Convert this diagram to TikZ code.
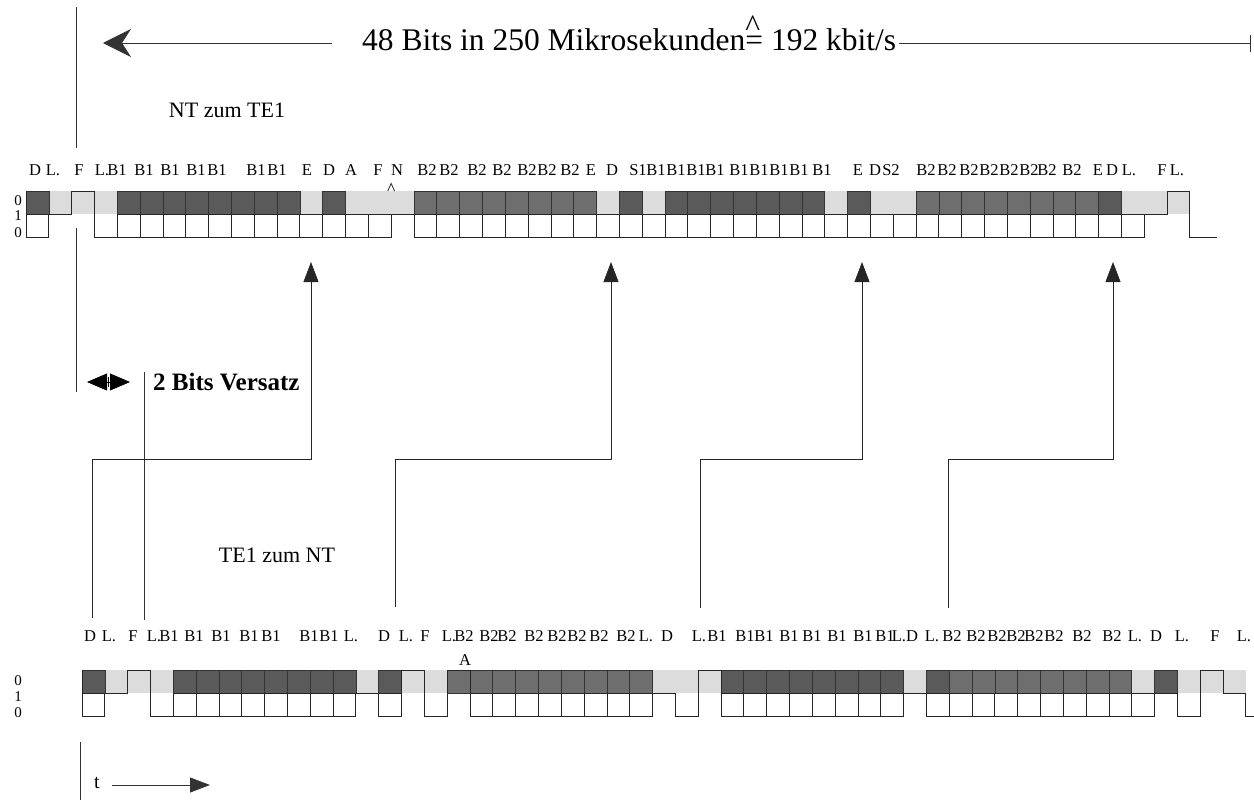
\documentclass[tikz,border=0pt]{standalone}
\usepackage{fontspec}
\setmainfont{Liberation Serif}
\usetikzlibrary{arrows.meta,positioning,calc}
\definecolor{chdark}{RGB}{90,90,90}
\definecolor{chmid}{RGB}{110,110,110}
\definecolor{chlight}{RGB}{220,220,220}

\begin{document}
\begin{tikzpicture}[x=1pt, y=-1pt,
  lbl/.style={inner sep=0pt, font=\fontsize{16.5}{19}\selectfont},
  lvl/.style={inner sep=0pt, font=\fontsize{15}{17}\selectfont},
  txt/.style={inner sep=0pt, font=\fontsize{22}{26}\selectfont},
  cellD/.style={fill=chdark, draw=black!80, line width=0.6pt},
  cellB/.style={fill=chmid, draw=black!80, line width=0.6pt},
  lowbox/.style={draw=black!85, line width=0.7pt},
  wave/.style={draw=black!85, line width=0.8pt},
  rule/.style={draw=black!80, line width=0.8pt},
  link/.style={draw=black!85, line width=0.8pt, -{Triangle[length=20pt,width=15pt]}},
]
\useasboundingbox (0,0) rectangle (1254,803);

% frame length
\node[anchor=base west, inner sep=0pt, font=\fontsize{31.5}{36}\selectfont] (title) at (362,50)
  {48 Bits in 250 Mikrosekunden\rlap{\raisebox{0.42em}{\textasciicircum}}= 192 kbit/s};
\coordinate (lend) at (103,43);
\coordinate (rend) at (1250,43);
\draw[rule, -{Stealth[length=28pt,width=28pt,inset=9pt]}] ($(title.west |- lend)+(-30,0)$) -- (lend);
\draw[rule] ($(title.east |- lend)+(3,0)$) -- (rend);
\draw[rule] ($(rend)+(0,-8)$) -- ($(rend)+(0,9)$);
\draw[rule] (76,7) -- (76,148);

\node[txt] (ntte) at (227,110) {NT zum TE1};
\node[txt] (tent) at (277,555) {TE1 zum NT};

% NT -> TE1 frame
\foreach \x/\t [count=\k] in {35/D, 53/L., 79/F, 102/L., 117/B1, 144/B1, 170/B1, 196/B1, 217/B1, 256/B1, 277/B1,
  307/E, 329/D, 351/A, 378/F, 397/N, 427/B2, 449/B2, 477/B2, 502/B2, 527/B2, 547/B2, 570/B2, 591/E, 612/D,
  638/S1, 656/B1, 676/B1, 696/B1, 715/B1, 739/B1, 759/B1, 779/B1, 799/B1, 822/B1, 858/E, 875/D, 891/S2,
  926/B2, 947/B2, 969/B2, 989/B2, 1009/B2, 1029/B2, 1047/B2, 1072/B2, 1098/E, 1112/D, 1129/L., 1162/F, 1177/L.}
  \node[lbl] (nt\k) at (\x,170) {\t};
\foreach \y/\t [count=\k] in {201/0, 216/1, 233/0}
  \node[lvl] (ntv\k) at (18,\y) {\t};

\begin{scope}[shift={(26,191)}, x=22.82pt, y=-23pt]
  \fill[chlight] (0,0) rectangle (51,1);
  \foreach \i in {0,4,5,6,7,8,9,10,11,13,26,28,29,30,31,32,33,34,36,47}
    \filldraw[cellD] (\i,0) rectangle ++(1,1);
  \foreach \i in {17,18,19,20,21,22,23,24,39,40,41,42,43,44,45,46}
    \filldraw[cellB] (\i,0) rectangle ++(1,1);
  \foreach \i in {0,4,5,6,7,8,9,10,11,12,13,14,15}
    \draw[lowbox] (\i,1) rectangle ++(1,1);
  \foreach \i in {17,...,48}
    \draw[lowbox] (\i,1) rectangle ++(1,1);
  \draw[wave] (0,0) |- (1,2) |- (2,1) |- (3,0) |- (16,2) |- (17,1) |- (49,2) |- (50,1) |- (51,0) |- (52.2,2);
  \draw[wave] (15.85,0) -- (16,-0.33) -- (16.15,0);
\end{scope}

% offset
\draw[rule] (76,228) -- (76,392);
\draw[rule] (144,372) -- (144,620);
\draw[{Triangle[length=20pt,width=17pt]}-{Triangle[length=20pt,width=17pt]}, line width=0.8pt] (87,382) -- (130,382);
\draw[line width=0.5pt] (108.5,377) -- (108.5,387);
\node[inner sep=0pt, anchor=west, font=\fontsize{25}{30}\selectfont\bfseries] (shift) at (153,382) {2 Bits Versatz};

% TE1 -> NT frame
\foreach \x/\t [count=\k] in {90/D, 109/L., 133/F, 154/L., 169/B1, 194/B1, 221/B1, 249/B1, 271/B1, 309/B1, 329/B1,
  351/L., 384/D, 406/L., 425/F, 449/L., 464/B2, 489/B2, 507/B2, 534/B2, 557/B2, 577/B2, 599/B2, 626/B2,
  646/L., 667/D, 699/L., 717/B1, 745/B1, 764/B1, 789/B1, 812/B1, 837/B1, 863/B1, 885/B1, 899/L., 912/D,
  932/L., 952/B2, 976/B2, 997/B2, 1016/B2, 1034/B2, 1054/B2, 1082/B2, 1112/B2, 1135/L., 1156/D, 1182/L.,
  1215/F, 1244/L.}
  \node[lbl] (te\k) at (\x,636) {\t};
\node[lbl] (teA) at (465,660) {A};
\foreach \y/\t [count=\k] in {681/0, 697/1, 713/0}
  \node[lvl] (tev\k) at (18,\y) {\t};

\begin{scope}[shift={(82,670)}, x=22.82pt, y=-23pt]
  \fill[chlight] (0,0) rectangle (51,1);
  \foreach \i in {0,4,5,6,7,8,9,10,11,13,28,29,30,31,32,33,34,35,37,47}
    \filldraw[cellD] (\i,0) rectangle ++(1,1);
  \foreach \i in {16,17,18,19,20,21,22,23,24,38,39,40,41,42,43,44,45}
    \filldraw[cellB] (\i,0) rectangle ++(1,1);
  \foreach \i in {0,4,5,6,7,8,9,10,11,13,17,18,19,20,21,22,23,24,28,29,30,31,32,33,34,35}
    \draw[lowbox] (\i,1) rectangle ++(1,1);
  \foreach \i in {37,...,46}
    \draw[lowbox] (\i,1) rectangle ++(1,1);
  \draw[wave] (0,0) |- (1,2) |- (2,1) |- (3,0) |- (12,2) |- (13,1) |- (14,2) |- (15,0) |- (16,2) |- (17,0)
    |- (25,2) |- (26,1) |- (27,2) |- (28,0) |- (36,2) |- (37,1) |- (47,2) |- (48,1) |- (49,2) |- (50,0)
    |- (51,1) |- (51.4,2);
\end{scope}

% bit mapping
\coordinate (s1) at (92,618);
\coordinate (s2) at (395,607);
\coordinate (s3) at (700,608);
\coordinate (s4) at (948,608);
\coordinate (e1) at (311,262);
\coordinate (e2) at (611,262);
\coordinate (e3) at (862,262);
\coordinate (e4) at (1113,262);
\coordinate (turn) at (0,459);
\foreach \k in {1,...,4}
  \draw[link] (s\k) |- (turn -| e\k) -- (e\k);

% time axis
\draw[rule] (80,742) -- (80,800);
\node[inner sep=0pt, font=\fontsize{20}{24}\selectfont] (tax) at (97,783) {t};
\draw[rule, -{Triangle[length=20pt,width=15pt]}] (112,785) -- (210,785);
\end{tikzpicture}
\end{document}
